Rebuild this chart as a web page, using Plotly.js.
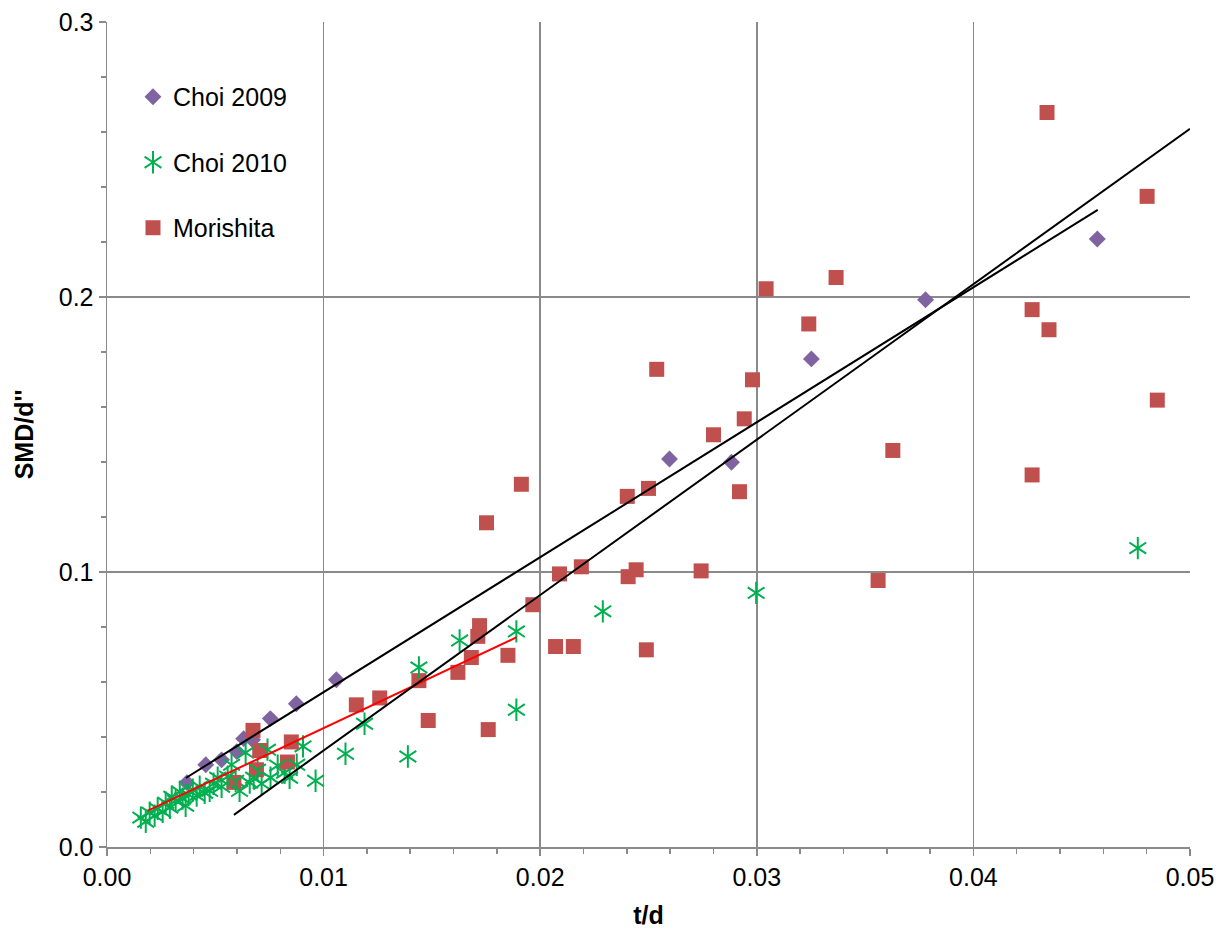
<!DOCTYPE html>
<html>
<head>
<meta charset="utf-8">
<script src="https://cdn.plot.ly/plotly-3.0.1.min.js"></script>
<style>
html,body{margin:0;padding:0;background:#fff;}
#chart{width:1219px;height:929px;}
</style>
</head>
<body>
<div id="chart"></div>
<script>
// ---- Data ----
const choi2009_x = [0.00369,0.00456,0.00529,0.00599,0.00631,0.00672,0.00754,0.00874,0.01059,0.02597,0.02883,0.03252,0.03779,0.04572];
const choi2009_y = [0.0234,0.0299,0.0317,0.0347,0.0394,0.0390,0.0467,0.0521,0.0608,0.1411,0.1399,0.1775,0.1990,0.2211];

const choi2010_x = [0.00156,0.00179,0.00197,0.00220,0.00234,0.00257,0.00271,0.00290,0.00299,0.00317,
                    0.00336,0.00349,0.00363,0.00377,0.00396,0.00414,0.00428,0.00451,0.00474,0.00492,
                    0.00511,0.00529,0.00557,0.00575,0.00594,0.00612,0.00640,0.00659,0.00677,0.00695,
                    0.00714,0.00741,0.00755,0.00788,0.00820,0.00843,0.00876,0.00905,0.00963,0.01101,
                    0.01189,0.01389,0.01440,0.01628,0.01890,0.01890,0.02289,0.02997,0.04759];
const choi2010_y = [0.0107,0.0092,0.0125,0.0114,0.0139,0.0128,0.0161,0.0143,0.0183,0.0168,
                    0.0201,0.0176,0.0150,0.0190,0.0208,0.0187,0.0219,0.0197,0.0204,0.0230,
                    0.0252,0.0219,0.0256,0.0299,0.0241,0.0204,0.0343,0.0234,0.0252,0.0281,
                    0.0230,0.0354,0.0252,0.0296,0.0270,0.0252,0.0299,0.0366,0.0241,0.0339,
                    0.0448,0.0329,0.0653,0.0751,0.0499,0.0784,0.0857,0.0924,0.1087];

const morishita_x = [0.00586,0.00674,0.00690,0.00705,0.00833,0.00851,0.01151,0.01259,0.01440,0.01483,
                     0.01620,0.01682,0.01712,0.01720,0.01760,0.01752,0.01851,0.01913,0.01966,0.02071,
                     0.02089,0.02153,0.02190,0.02406,0.02443,0.02402,0.02490,0.02500,0.02538,0.02743,
                     0.02800,0.02920,0.02942,0.02980,0.03043,0.03240,0.03366,0.03560,0.03628,0.04271,
                     0.04271,0.04340,0.04349,0.04802,0.04849];
const morishita_y = [0.0235,0.0424,0.0281,0.0351,0.0309,0.0382,0.0517,0.0542,0.0605,0.0460,
                     0.0635,0.0689,0.0766,0.0805,0.0427,0.1179,0.0697,0.1319,0.0881,0.0729,
                     0.0993,0.0729,0.1019,0.0983,0.1008,0.1275,0.0717,0.1304,0.1737,0.1004,
                     0.1499,0.1292,0.1557,0.1699,0.2030,0.1902,0.2071,0.0969,0.1442,0.1954,
                     0.1353,0.2671,0.1881,0.2366,0.1625];

// Trend lines (end points)
const trendA_x = [0.00364, 0.04574];
const trendA_y = [0.0251, 0.2317];
const trendB_x = [0.00586, 0.05];
const trendB_y = [0.0117, 0.2612];
const trendRed_x = [0.00189, 0.0189];
const trendRed_y = [0.0132, 0.0762];

const xTickVals = [0, 0.01, 0.02, 0.03, 0.04, 0.05];
const yTickVals = [0, 0.1, 0.2, 0.3];

// ---- Styles ----
const FONT = 'Liberation Sans, Arial, sans-serif';
const purple = '#8064A2', green = '#00B050', red = '#C0504D';
const gridCol = '#8a8a8a';
const GAP = 30;
const STAR = 14;

const traces = [
  {x: choi2009_x, y: choi2009_y, mode: 'markers', type: 'scatter', name: 'Choi 2009',
   legendgroup: 'g1', marker: {symbol: 'diamond', size: 13, color: purple}},
  {x: choi2010_x, y: choi2010_y, mode: 'markers', type: 'scatter', name: 'Choi 2010',
   legendgroup: 'g2', marker: {symbol: 'y-up-open', size: STAR, color: green, line: {color: green, width: 2}}},
  {x: morishita_x, y: morishita_y, mode: 'markers', type: 'scatter', name: 'Morishita',
   legendgroup: 'g3', marker: {symbol: 'square', size: 15, color: red}},
  // second half of the asterisk marker, shown in an overlaid legend
  {x: [null], y: [null], mode: 'markers', type: 'scatter', name: ' ', legend: 'legend2',
   legendgroup: 'h1', marker: {symbol: 'square', size: 10, color: 'rgba(0,0,0,0)'}},
  {x: choi2010_x, y: choi2010_y, mode: 'markers', type: 'scatter', name: ' ', legend: 'legend2',
   legendgroup: 'h2', marker: {symbol: 'y-down-open', size: STAR, color: green, line: {color: green, width: 2}}},
  {x: [null], y: [null], mode: 'markers', type: 'scatter', name: ' ', legend: 'legend2',
   legendgroup: 'h3', marker: {symbol: 'square', size: 10, color: 'rgba(0,0,0,0)'}},
  {x: trendRed_x, y: trendRed_y, mode: 'lines', type: 'scatter', showlegend: false,
   line: {color: '#FF0000', width: 2}},
  {x: trendA_x, y: trendA_y, mode: 'lines', type: 'scatter', showlegend: false,
   line: {color: '#000000', width: 2}},
  {x: trendB_x, y: trendB_y, mode: 'lines', type: 'scatter', showlegend: false,
   line: {color: '#000000', width: 2}}
];

const axisCommon = {
  showgrid: true, gridcolor: gridCol, gridwidth: 1.5,
  showline: true, linecolor: gridCol, linewidth: 1.5,
  zeroline: false, ticks: 'outside', ticklen: 7, tickwidth: 1.5, tickcolor: gridCol,
  tickfont: {family: FONT, size: 25, color: '#000'}
};

const legendCommon = {
  x: 0.024, y: 0.937, xanchor: 'left', yanchor: 'top',
  bgcolor: 'rgba(0,0,0,0)', borderwidth: 0,
  traceorder: 'grouped', tracegroupgap: GAP,
  itemclick: false, itemdoubleclick: false
};

const layout = {
  width: 1219, height: 929,
  margin: {l: 107, r: 29, t: 22, b: 82},
  paper_bgcolor: '#fff', plot_bgcolor: '#fff',
  font: {family: FONT, size: 25, color: '#000'},
  xaxis: Object.assign({}, axisCommon, {
    range: [0, 0.05], tickvals: xTickVals, tickformat: '.2f',
    minor: {dtick: 0.002, ticks: 'outside', ticklen: 5, tickcolor: gridCol, tickwidth: 1.5, showgrid: false},
    title: {text: '<b>t/d</b>', font: {family: FONT, size: 25, color: '#000'}, standoff: 19}
  }),
  yaxis: Object.assign({}, axisCommon, {
    range: [0, 0.3], tickvals: yTickVals, tickformat: '.1f',
    minor: {dtick: 0.02, ticks: 'outside', ticklen: 5, tickcolor: gridCol, tickwidth: 1.5, showgrid: false},
    title: {text: "<b>SMD/d''</b>", font: {family: FONT, size: 25, color: '#000'}, standoff: 18}
  }),
  legend: Object.assign({}, legendCommon, {font: {family: FONT, size: 25, color: '#000'}}),
  legend2: Object.assign({}, legendCommon, {font: {family: FONT, size: 25, color: 'rgba(0,0,0,0)'}}),
  showlegend: true
};

Plotly.newPlot('chart', traces, layout, {displayModeBar: false, staticPlot: true});
</script>
</body>
</html>
